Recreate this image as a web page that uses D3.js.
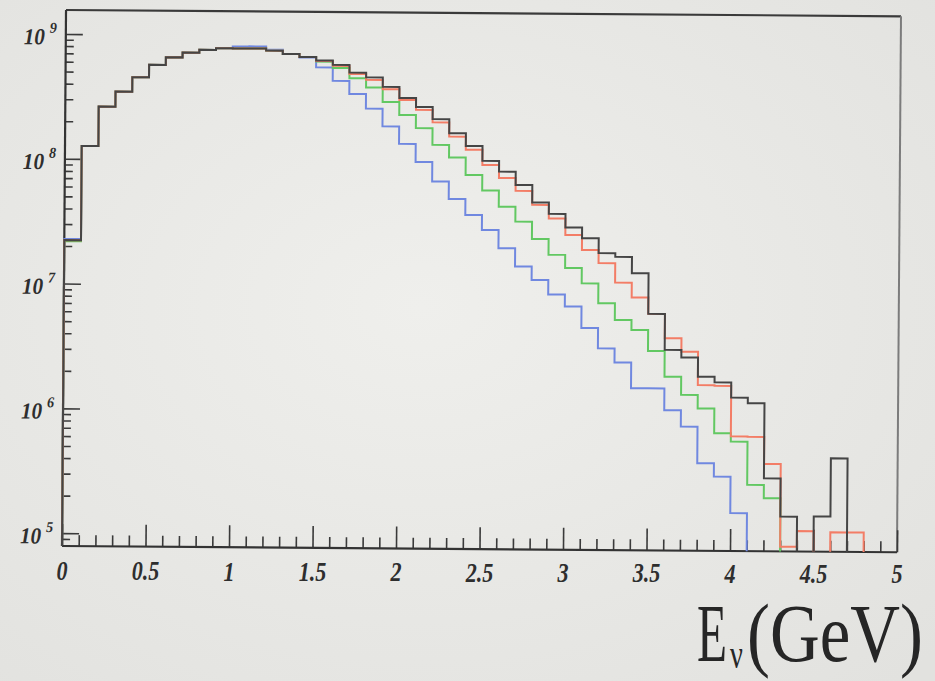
<!DOCTYPE html>
<html>
<head>
<meta charset="utf-8">
<script src="https://cdn.jsdelivr.net/npm/d3@7"></script>
<style>
  html, body { margin: 0; padding: 0; background: #e9e9e6; }
  svg { display: block; }
  text { font-family: "Liberation Serif", "Times New Roman", Times, serif; }
</style>
</head>
<body>
<svg id="chart" width="935" height="681"></svg>
<script>
// Neutrino energy spectra, 0.1 GeV bins from 0 to 5 GeV (log-scale counts)
const binWidth = 0.1;

const seriesBlack = [2.23e7, 1.27e8, 2.63e8, 3.48e8, 4.55e8, 5.72e8, 6.60e8, 7.21e8, 7.60e8, 7.85e8,
  7.84e8, 7.86e8, 7.57e8, 7.13e8, 6.76e8, 6.36e8, 5.87e8, 5.10e8, 4.69e8, 3.94e8,
  3.22e8, 2.73e8, 2.19e8, 1.69e8, 1.34e8, 1.02e8, 8.38e7, 6.57e7, 4.77e7, 3.87e7,
  3.02e7, 2.48e7, 1.89e7, 1.77e7, 1.31e7, 6.20e6, 3.20e6, 2.79e6, 1.96e6, 1.77e6,
  1.34e6, 1.21e6, 3.03e5, 1.50e5, 0, 1.51e5, 4.43e5, 0, 0, 0];

const seriesRed = [2.23e7, 1.27e8, 2.63e8, 3.48e8, 4.55e8, 5.72e8, 6.60e8, 7.21e8, 7.60e8, 7.85e8,
  7.84e8, 7.86e8, 7.57e8, 7.13e8, 6.76e8, 6.30e8, 5.76e8, 4.98e8, 4.47e8, 3.77e8,
  3.10e8, 2.59e8, 2.06e8, 1.59e8, 1.25e8, 9.46e7, 7.46e7, 5.89e7, 4.56e7, 3.56e7,
  2.63e7, 2.00e7, 1.57e7, 1.10e7, 8.38e6, 6.20e6, 3.97e6, 3.10e6, 1.68e6, 1.66e6,
  6.55e5, 6.50e5, 3.95e5, 8.6e4, 1.15e5, 0, 1.13e5, 1.13e5, 0, 0];

const seriesGreen = [2.19e7, 1.27e8, 2.63e8, 3.48e8, 4.55e8, 5.72e8, 6.60e8, 7.21e8, 7.60e8, 7.85e8,
  7.84e8, 7.86e8, 7.57e8, 7.13e8, 6.76e8, 6.22e8, 5.55e8, 4.60e8, 3.89e8, 2.98e8,
  2.35e8, 1.85e8, 1.36e8, 1.08e8, 7.85e7, 5.91e7, 4.39e7, 3.34e7, 2.43e7, 1.82e7,
  1.43e7, 1.08e7, 7.50e6, 5.52e6, 4.60e6, 3.13e6, 1.95e6, 1.40e6, 1.09e6, 6.92e5,
  5.94e5, 2.68e5, 2.10e5, 0, 0, 0, 0, 0, 0, 0];

const seriesBlue = [2.28e7, 1.27e8, 2.63e8, 3.48e8, 4.55e8, 5.72e8, 6.60e8, 7.21e8, 7.60e8, 7.85e8,
  8.13e8, 8.16e8, 7.70e8, 7.13e8, 6.70e8, 5.59e8, 4.37e8, 3.44e8, 2.63e8, 1.90e8,
  1.38e8, 9.90e7, 6.93e7, 5.03e7, 3.75e7, 2.85e7, 2.04e7, 1.46e7, 1.14e7, 8.75e6,
  7.03e6, 4.74e6, 3.26e6, 2.52e6, 1.57e6, 1.57e6, 1.05e6, 7.78e5, 3.97e5, 3.11e5,
  1.59e5, 0, 0, 0, 0, 0, 0, 0, 0, 0];

// axis ranges and tick labels
const xDomain = [0, 5];
const yDomain = [7.89e4, 1.556e9];
const xTickValues = [0, 0.5, 1, 1.5, 2, 2.5, 3, 3.5, 4, 4.5, 5];
const xTickLabels = ["0", "0.5", "1", "1.5", "2", "2.5", "3", "3.5", "4", "4.5", "5"];
const yDecades = [5, 6, 7, 8, 9];

// draw order: last one ends up on top
const histos = [
  { values: seriesBlue,  color: "#7088e0" },
  { values: seriesGreen, color: "#62c862" },
  { values: seriesRed,   color: "#f37d66" },
  { values: seriesBlack, color: "#454545" }
];

const svg = d3.select("#chart");
const W = 935, H = 681;

// paper background with a slight vignette
const defs = svg.append("defs");
const grad = defs.append("radialGradient").attr("id", "paper")
  .attr("cx", "45%").attr("cy", "45%").attr("r", "75%");
grad.append("stop").attr("offset", "0%").attr("stop-color", "#efefec");
grad.append("stop").attr("offset", "100%").attr("stop-color", "#e2e2df");
svg.append("rect").attr("width", W).attr("height", H).attr("fill", "url(#paper)");

const frameL = 62, frameR = 897, frameT = 10, frameB = 546;
const x = d3.scaleLinear().domain(xDomain).range([frameL, frameR]);
const y = d3.scaleLog().domain(yDomain).range([frameB, frameT]);

// the printed page sits slightly rotated
const g = svg.append("g").attr("transform", `rotate(0.43, ${frameL}, ${frameB})`);

const ink = "#2e2e2e";

// frame
g.append("line").attr("x1", x(0)).attr("x2", x(5)).attr("y1", frameT).attr("y2", frameT)
  .attr("stroke", "#3a3a3a").attr("stroke-width", 2.2);
g.append("line").attr("x1", x(5)).attr("x2", x(5)).attr("y1", frameT).attr("y2", frameB)
  .attr("stroke", "#7c7c7c").attr("stroke-width", 2);

// x axis ticks (pointing up into the frame)
const xMinor = d3.range(0, 51).map(i => i / 10).filter(v => Math.round(v * 10) % 5 !== 0);
const axXminor = g.append("g").attr("transform", `translate(0,${frameB})`)
  .call(d3.axisBottom(x).tickValues(xMinor).tickSize(-11).tickFormat(""));
const axXmajor = g.append("g").attr("transform", `translate(0,${frameB})`)
  .call(d3.axisBottom(x).tickValues(xTickValues).tickSize(-22).tickFormat(""));

// y axis ticks (pointing right into the frame)
const yMinor = [];
[4].concat(yDecades).forEach(d => {
  for (let m = 2; m <= 9; m++) {
    const v = m * Math.pow(10, d);
    if (v >= yDomain[0] && v <= yDomain[1]) yMinor.push(v);
  }
});
const yMajor = yDecades.map(d => Math.pow(10, d));
const axYminor = g.append("g").attr("transform", `translate(${frameL},0)`)
  .call(d3.axisLeft(y).tickValues(yMinor).tickSize(-8).tickFormat(""));
const axYmajor = g.append("g").attr("transform", `translate(${frameL},0)`)
  .call(d3.axisLeft(y).tickValues(yMajor).tickSize(-17).tickFormat(""));

[axXminor, axXmajor, axYminor, axYmajor].forEach(a => {
  a.select(".domain").remove();
  a.selectAll(".tick line").attr("stroke", "#3a3a3a").attr("stroke-width", 1.6);
});

// axis lines
g.append("line").attr("x1", frameL).attr("x2", frameR).attr("y1", frameB).attr("y2", frameB)
  .attr("stroke", "#333").attr("stroke-width", 2.2);
g.append("line").attr("x1", frameL).attr("x2", frameL).attr("y1", frameT).attr("y2", frameB)
  .attr("stroke", "#333").attr("stroke-width", 2.2);

// x tick labels (kept on a flatter baseline than the tilted frame)
xTickValues.forEach((v, i) => {
  const px = x(v);
  svg.append("text")
    .attr("transform", `translate(${px},${580 + (px - frameL) * 0.004}) scale(0.82,1)`)
    .attr("text-anchor", "middle")
    .attr("font-style", "italic").attr("font-weight", "bold")
    .attr("font-size", 27).attr("fill", ink)
    .text(xTickLabels[i]);
});

// y tick labels: 10 with exponent
yDecades.forEach(d => {
  const ty = y(Math.pow(10, d));
  g.append("text")
    .attr("transform", `translate(20,${ty + 10.5}) scale(0.92,1)`)
    .attr("font-style", "italic").attr("font-weight", "bold")
    .attr("font-size", 23).attr("fill", ink)
    .text("10");
  g.append("text")
    .attr("transform", `translate(46,${ty - 1}) scale(0.95,1)`)
    .attr("font-style", "italic").attr("font-weight", "bold")
    .attr("font-size", 15).attr("fill", ink)
    .text(String(d));
});

// histogram outlines; empty bins are left undrawn
function histPath(vals) {
  const yb = y.range()[0];
  let d = "", prev = 0;
  vals.forEach((v, i) => {
    const x0 = x(i * binWidth), x1 = x((i + 1) * binWidth);
    if (v > 0) {
      const yv = y(Math.max(v, yDomain[0]));
      d += prev > 0 ? `L${x0},${yv}` : `M${x0},${yb}L${x0},${yv}`;
      d += `L${x1},${yv}`;
    } else if (prev > 0) {
      d += `L${x0},${yb}`;
    }
    prev = v;
  });
  if (prev > 0) d += `L${x(vals.length * binWidth)},${yb}`;
  return d;
}

g.selectAll("path.hist").data(histos).enter().append("path")
  .attr("class", "hist")
  .attr("d", h => histPath(h.values))
  .attr("fill", "none")
  .attr("stroke", h => h.color)
  .attr("stroke-width", 2)
  .attr("stroke-linejoin", "miter");

// axis title: E_ν (GeV), condensed like the printed lettering
const title = svg.append("g").attr("fill", "#262626");
title.append("text").attr("transform", "translate(697,661) scale(0.6,1)")
  .attr("font-size", 82).text("E");
title.append("text").attr("transform", "translate(730,668) scale(0.68,1)")
  .attr("font-size", 42).text("ν");
title.append("text").attr("transform", "translate(747,661) scale(0.84,1)")
  .attr("font-size", 82).text("(GeV)");
</script>
</body>
</html>
